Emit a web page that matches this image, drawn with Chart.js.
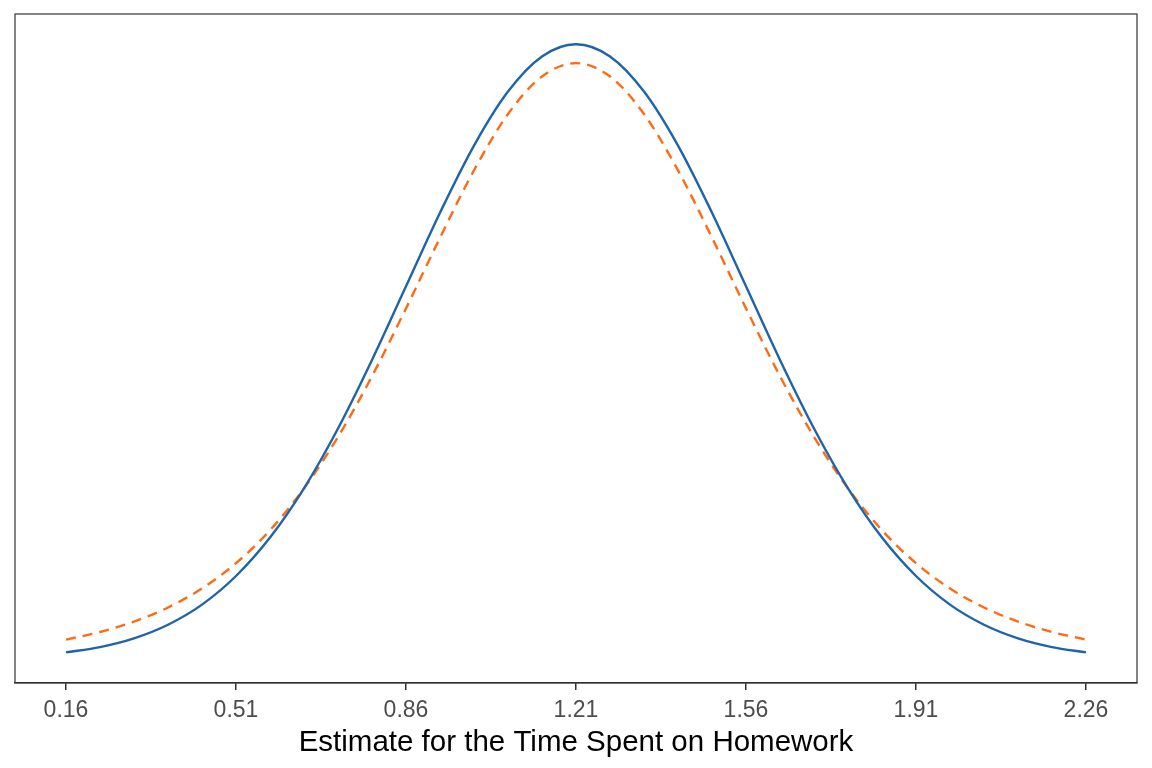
<!DOCTYPE html>
<html>
<head>
<meta charset="utf-8">
<script src="https://cdn.jsdelivr.net/npm/chart.js@4/dist/chart.umd.min.js"></script>
<style>
  html, body { margin: 0; padding: 0; background: #fff; }
  #wrap { width: 1152px; height: 768px; }
</style>
</head>
<body>
<div id="wrap"><canvas id="myChart" width="1152" height="768"></canvas></div>
<script>
// x positions (hours): 0.16 .. 2.26 in steps of 0.07
const xVals = [0.16, 0.23, 0.30, 0.37, 0.44, 0.51, 0.58, 0.65, 0.72, 0.79, 0.86,
               0.93, 1.00, 1.07, 1.14, 1.21, 1.28, 1.35, 1.42, 1.49, 1.56,
               1.63, 1.70, 1.77, 1.84, 1.91, 1.98, 2.05, 2.12, 2.19, 2.26];

// blue solid curve (normal)
const normalVals = [0.0127, 0.0226, 0.0388, 0.0640, 0.1013, 0.1543, 0.2256, 0.3169,
                    0.4278, 0.5548, 0.6913, 0.8277, 0.9521, 1.0522, 1.1172, 1.1398,
                    1.1172, 1.0522, 0.9521, 0.8277, 0.6913, 0.5548, 0.4278, 0.3169,
                    0.2256, 0.1543, 0.1013, 0.0640, 0.0388, 0.0226, 0.0127];

// orange dashed curve (t)
const tVals = [0.0365, 0.0505, 0.0698, 0.0960, 0.1312, 0.1781, 0.2392, 0.3168,
               0.4121, 0.5246, 0.6503, 0.7814, 0.9063, 1.0106, 1.0803, 1.1049,
               1.0803, 1.0106, 0.9063, 0.7814, 0.6503, 0.5246, 0.4121, 0.3168,
               0.2392, 0.1781, 0.1312, 0.0960, 0.0698, 0.0505, 0.0365];

const tickVals = [0.16, 0.51, 0.86, 1.21, 1.56, 1.91, 2.26];

const toPts = (ys) => xVals.map((x, i) => ({x: x, y: ys[i]}));

// box round the panel, like ggplot theme_bw
const panelBox = {
  id: 'panelBox',
  afterDraw(chart) {
    const a = chart.chartArea, c = chart.ctx;
    c.save();
    c.strokeStyle = '#333333';
    c.lineWidth = 1.2;
    c.strokeRect(a.left, a.top, a.right - a.left, a.bottom - a.top);
    c.restore();
  }
};

const ctx = document.getElementById('myChart').getContext('2d');
const chart = new Chart(ctx, {
  type: 'line',
  data: {
    datasets: [
      {
        label: 'normal',
        data: toPts(normalVals),
        borderColor: '#1f63a8',
        borderWidth: 2.4,
        pointRadius: 0,
        cubicInterpolationMode: 'monotone',
        fill: false
      },
      {
        label: 't',
        data: toPts(tVals),
        borderColor: '#ff6b14',
        borderWidth: 2.4,
        borderDash: [10, 7],
        pointRadius: 0,
        cubicInterpolationMode: 'monotone',
        fill: false
      }
    ]
  },
  plugins: [panelBox],
  options: {
    responsive: false,
    animation: false,
    layout: { padding: { left: 15, right: 15, top: 14, bottom: 1 } },
    plugins: { legend: { display: false }, tooltip: { enabled: false } },
    scales: {
      x: {
        type: 'linear',
        min: 0.055,
        max: 2.365,
        afterBuildTicks: (ax) => { ax.ticks = tickVals.map(v => ({value: v})); },
        grid: { drawOnChartArea: false, drawTicks: true, tickLength: 7, color: '#333333', lineWidth: 1.5 },
        border: { display: true, color: '#333333', width: 1.2 },
        ticks: {
          color: '#4d4d4d',
          font: { family: 'Liberation Sans', size: 23 },
          padding: 7,
          maxRotation: 0,
          callback: (v) => v.toFixed(2)
        },
        title: {
          display: true,
          text: 'Estimate for the Time Spent on Homework',
          color: '#000000',
          font: { family: 'Liberation Sans', size: 29.5 },
          padding: { top: -6, bottom: 6 }
        }
      },
      y: {
        display: false,
        min: -0.044,
        max: 1.196
      }
    }
  }
});
</script>
</body>
</html>
